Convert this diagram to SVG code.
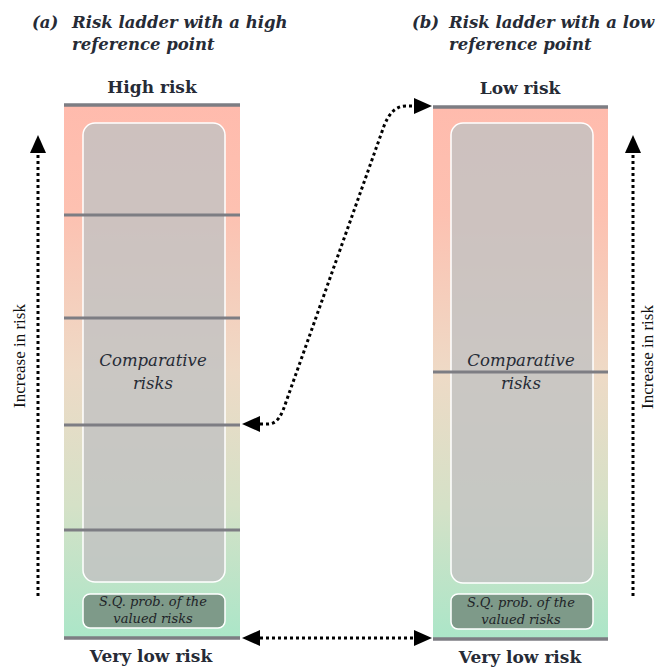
<svg xmlns="http://www.w3.org/2000/svg" width="665" height="670" viewBox="0 0 665 670">
<style>
.title{font-family:"DejaVu Serif","Liberation Serif",serif;font-weight:bold;font-style:italic;font-size:16.5px;fill:#262b36}
.lbl{font-family:"DejaVu Serif","Liberation Serif",serif;font-weight:bold;font-size:17px;fill:#262b36;text-anchor:middle}
.cmp{font-family:"DejaVu Serif","Liberation Serif",serif;font-style:italic;font-size:16.5px;fill:#262b36;text-anchor:middle}
.sq{font-family:"DejaVu Serif","Liberation Serif",serif;font-style:italic;font-size:13px;fill:#1e2428;text-anchor:middle}
.axis{font-family:"Liberation Serif","Times New Roman",serif;font-size:17px;fill:#111;text-anchor:middle}
.col{fill:url(#grad)}
.inner{fill:#c2c2c2;fill-opacity:0.82;stroke:#ffffff;stroke-width:1.5}
.sqbox{fill:#7e9a89;stroke:#ffffff;stroke-width:1.5}
.rung{stroke:#7d7d83;stroke-width:3}
.edge{stroke:#7d7d83;stroke-width:3.5}
.dot{fill:none;stroke:#000;stroke-width:3;stroke-dasharray:3 3}
</style>
<defs>
<linearGradient id="grad" x1="0" y1="0" x2="0" y2="1">
<stop offset="0" stop-color="#ffbbad"/>
<stop offset="0.2" stop-color="#fdc1b1"/>
<stop offset="0.5" stop-color="#eedac6"/>
<stop offset="0.75" stop-color="#d5e1c7"/>
<stop offset="1" stop-color="#abe6c8"/>
</linearGradient>
<marker id="ah" markerUnits="userSpaceOnUse" viewBox="0 0 18 16" refX="0" refY="8" markerWidth="18" markerHeight="16" orient="auto-start-reverse">
<path d="M0,0 L18,8 L0,16 z" fill="#000"/>
</marker>
</defs>

<g id="title-a">
<text class="title" x="32" y="28">(a)</text>
<text class="title" x="72" y="28">Risk ladder with a high</text>
<text class="title" x="72" y="50">reference point</text>
</g>
<g id="title-b">
<text class="title" x="412" y="28">(b)</text>
<text class="title" x="449" y="28">Risk ladder with a low</text>
<text class="title" x="449" y="50">reference point</text>
</g>

<g id="ladder-a">
<rect class="col" x="64" y="105" width="176" height="533"/>
<rect class="inner" x="83" y="123" width="142" height="459" rx="12"/>
<rect class="sqbox" x="83" y="594" width="142" height="34" rx="7"/>
<line class="edge" x1="64" y1="105" x2="240" y2="105"/>
<line class="rung" x1="64" y1="215" x2="240" y2="215"/>
<line class="rung" x1="64" y1="318" x2="240" y2="318"/>
<line class="rung" x1="64" y1="425" x2="240" y2="425"/>
<line class="rung" x1="64" y1="530" x2="240" y2="530"/>
<line class="edge" x1="64" y1="638" x2="240" y2="638"/>
<text class="lbl" x="152" y="93">High risk</text>
<text class="cmp" x="153" y="366">Comparative</text>
<text class="cmp" x="153" y="389">risks</text>
<text class="sq" x="153" y="606">S.Q. prob. of the</text>
<text class="sq" x="153" y="623">valued risks</text>
<text class="lbl" x="151" y="662">Very low risk</text>
</g>

<g id="ladder-b">
<rect class="col" x="433" y="107" width="175" height="532"/>
<rect class="inner" x="451" y="123" width="142" height="460" rx="12"/>
<rect class="sqbox" x="451" y="594" width="142" height="35" rx="7"/>
<line class="edge" x1="433" y1="107" x2="608" y2="107"/>
<line class="rung" x1="433" y1="372" x2="608" y2="372"/>
<line class="edge" x1="433" y1="639" x2="608" y2="639"/>
<text class="lbl" x="520" y="94">Low risk</text>
<text class="cmp" x="521" y="366">Comparative</text>
<text class="cmp" x="521" y="389">risks</text>
<text class="sq" x="521" y="607">S.Q. prob. of the</text>
<text class="sq" x="521" y="624">valued risks</text>
<text class="lbl" x="520" y="663">Very low risk</text>
</g>

<g id="axis-a">
<text class="axis" transform="translate(25,356) rotate(-90)">Increase in risk</text>
</g>
<g id="axis-b">
<text class="axis" transform="translate(653,357) rotate(-90)">Increase in risk</text>
</g>

<g id="connectors">
<path class="dot" d="M38 596 L38 153" marker-end="url(#ah)"/>
<path class="dot" d="M633 596 L633 153" marker-end="url(#ah)"/>
<path class="dot" d="M260 424 L268 424 C278 424 282 414 286 402 L384 126 C389 113 396 106 406 106 L414 106" marker-start="url(#ah)" marker-end="url(#ah)"/>
<path class="dot" d="M260 638 L414 638" marker-start="url(#ah)" marker-end="url(#ah)"/>
</g>
</svg>
